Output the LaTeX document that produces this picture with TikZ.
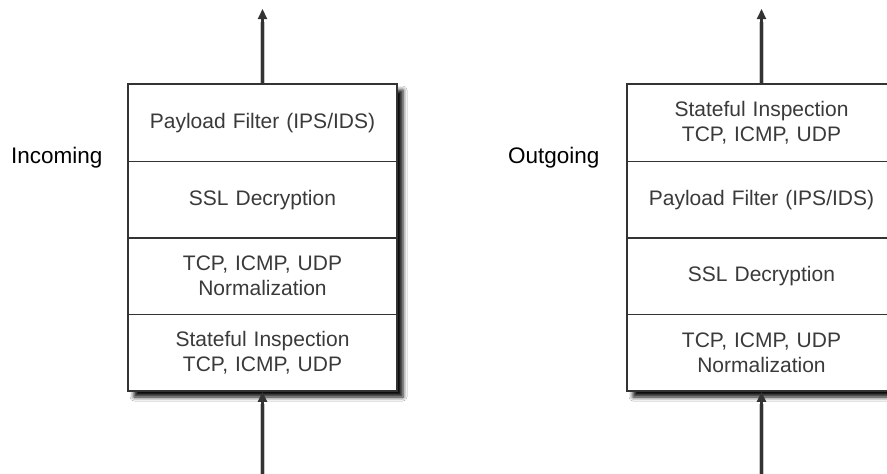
\documentclass[tikz,border=0pt]{standalone}
\usepackage{fontspec}
\setmainfont{Liberation Sans}
\usetikzlibrary{shadows.blur,arrows.meta}
\definecolor{linec}{HTML}{333333}
\definecolor{txtc}{HTML}{3A3A3A}
\tikzset{
  stack/.style={draw=linec, line width=1.8pt, fill=white, minimum width=269pt, minimum height=307pt,
    inner sep=0pt, blur shadow={shadow xshift=6pt, shadow yshift=-6pt, shadow blur radius=4pt, shadow opacity=95}},
  row/.style={draw=linec, line width=1.6pt, minimum width=269pt, minimum height=77pt, inner sep=0pt,
    text=txtc, font=\fontsize{21}{25}\selectfont, align=center, text width=260pt},
  label/.style={font=\fontsize{22.5}{26}\selectfont, text=black, inner sep=0pt},
  flow/.style={draw=linec, line width=2.2pt, -{Triangle[length=10pt,width=9pt]}},
  flowshadow/.style={draw=black, line width=5pt, opacity=0.22, shift={(3pt,-3pt)}}
}
\begin{document}
\begin{tikzpicture}[x=1pt,y=-1pt]
\useasboundingbox (0,0) rectangle (887,474);
\clip (0,0) rectangle (887,474);
\fill[white] (0,0) rectangle (887,474);
% left stack
\coordinate (inTop) at (262.5,9);
\coordinate (inBot) at (262.5,480);
\coordinate (inTopS) at (262.5,22);
\coordinate (inBotS) at (262.5,404);
\node[stack] (inbox) at (262.5,237.5) {};
\draw[flowshadow] (inbox.north) -- (inTopS);
\draw[flowshadow] (inBot) -- (inBotS);
\node[row] (inP) at (262.5,123) {Payload Filter (IPS/IDS)};
\node[row] (inS) at (262.5,200) {SSL Decryption};
\node[row] (inT) at (262.5,276) {TCP, ICMP, UDP\\Normalization};
\node[row] (inF) at (262.5,353) {Stateful Inspection\\TCP, ICMP, UDP};
\draw[flow] (inbox.north) -- (inTop);
\draw[flow] (inBot) -- (inbox.south);
\node[label, anchor=base west] (incoming) at (11,163) {Incoming};
% right stack
\coordinate (outTop) at (761.5,9);
\coordinate (outBot) at (761.5,480);
\coordinate (outTopS) at (761.5,22);
\coordinate (outBotS) at (761.5,404);
\node[stack] (outbox) at (761.5,237.5) {};
\draw[flowshadow] (outbox.north) -- (outTopS);
\draw[flowshadow] (outBot) -- (outBotS);
\node[row] (outF) at (761.5,123) {Stateful Inspection\\TCP, ICMP, UDP};
\node[row] (outP) at (761.5,200) {Payload Filter (IPS/IDS)};
\node[row] (outS) at (761.5,276) {SSL Decryption};
\node[row] (outT) at (761.5,353) {TCP, ICMP, UDP\\Normalization};
\draw[flow] (outbox.north) -- (outTop);
\draw[flow] (outBot) -- (outbox.south);
\node[label, anchor=base west] (outgoing) at (508,163) {Outgoing};
\end{tikzpicture}
\end{document}
